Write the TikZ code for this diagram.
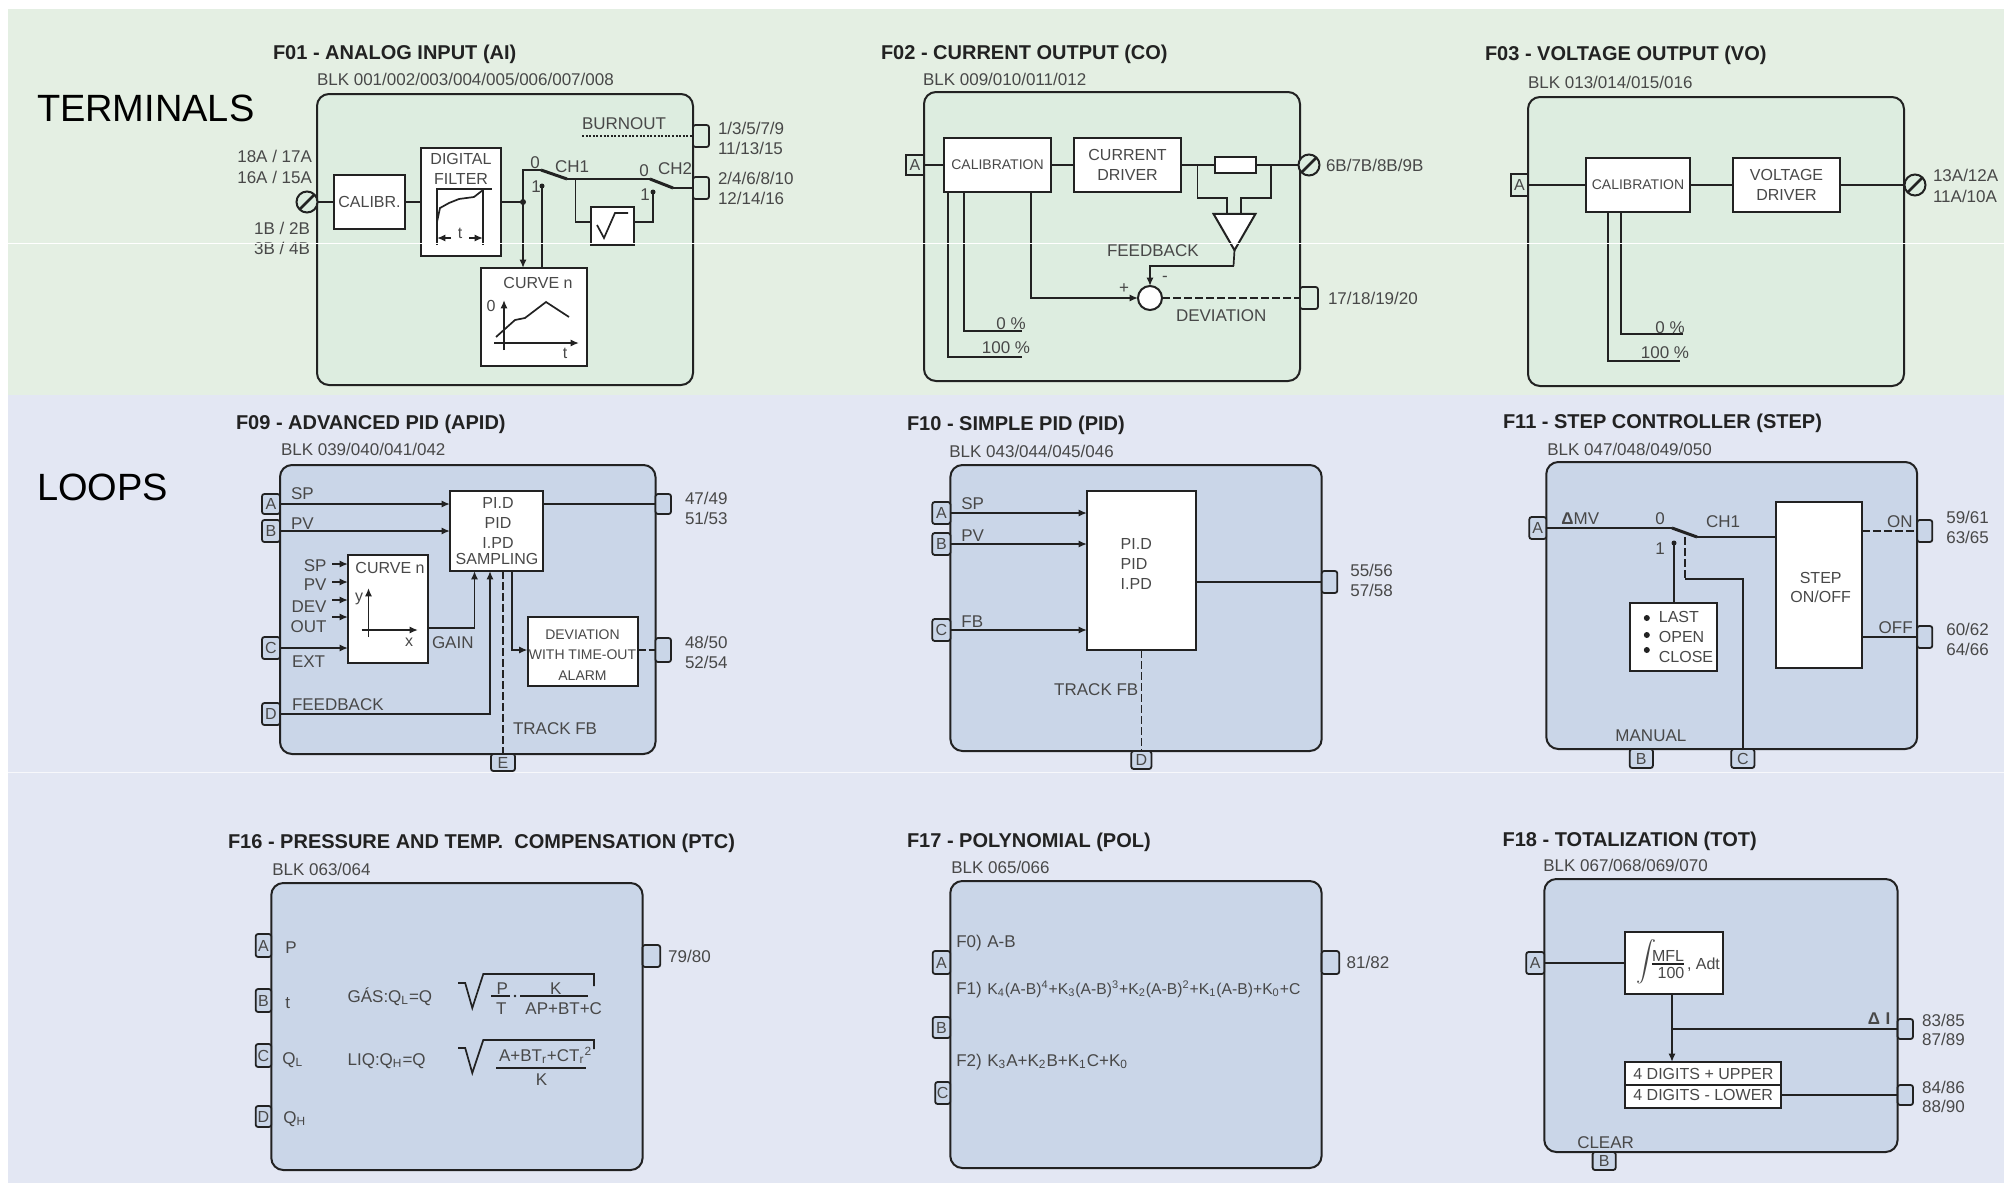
\documentclass[tikz,border=0pt]{standalone}
\usepackage{fontspec}
\setmainfont{Liberation Sans}
\usetikzlibrary{arrows.meta,shapes.geometric}
\definecolor{gband}{HTML}{E4EFE3}
\definecolor{gblock}{HTML}{DDEDE0}
\definecolor{bband}{HTML}{E3E7F3}
\definecolor{bblock}{HTML}{CAD6E8}
\definecolor{txt}{HTML}{484848}
\definecolor{ink}{HTML}{222222}
\newcounter{labn}
\newcommand{\fA}{\fontsize{8.5}{10}\selectfont}
\newcommand{\fB}{\fontsize{8}{10}\selectfont}
\newcommand{\fC}{\fontsize{7}{10}\selectfont}
\newcommand{\LabGen}[5]{\stepcounter{labn}\node[lab,anchor=#1,#2] (lab\arabic{labn}) at (#3,#4) {#5};}
\newcommand{\LabW}[4][]{\LabGen{west}{#1}{#2}{#3}{#4}}
\newcommand{\LabC}[4][]{\LabGen{center}{#1}{#2}{#3}{#4}}
\newcommand{\LabE}[4][]{\LabGen{east}{#1}{#2}{#3}{#4}}
\newcommand{\bx}[7][wbox]{\pgfmathsetmacro\cxv{(#3+#5)/2}\pgfmathsetmacro\cyv{(#4+#6)/2}\pgfmathsetmacro\wv{(#5-#3)/2}\pgfmathsetmacro\hv{(#6-#4)/2}\node[#1,minimum width=\wv pt,minimum height=\hv pt] (#2) at (\cxv,\cyv) {#7};}
\tikzset{
 lab/.style={inner sep=0pt,outer sep=0pt,text=txt,font=\fA,text height=6.1pt,text depth=0pt},
 inlab/.style={font=\fB,text height=5.8pt},
 smlab/.style={font=\fC,text height=5pt},
 ttl/.style={inner sep=0pt,outer sep=0pt,anchor=west,text=ink,font=\fontsize{10}{12}\selectfont\bfseries,text height=7.2pt,text depth=0pt},
 big/.style={inner sep=0pt,outer sep=0pt,anchor=west,text=black,font=\fontsize{19}{22}\selectfont,text height=13.6pt,text depth=0pt},
 wbox/.style={draw=ink,line width=1pt,fill=white,inner sep=0pt,outer sep=0pt,text=txt,font=\fB,align=center},
 gblk/.style={draw=ink,line width=1pt,fill=gblock,rounded corners=6pt,inner sep=0pt,outer sep=0pt},
 bblk/.style={draw=ink,line width=1pt,fill=bblock,rounded corners=6pt,inner sep=0pt,outer sep=0pt},
 gprt/.style={draw=ink,line width=.9pt,fill=gblock,rounded corners=1.2pt,inner sep=0pt,outer sep=0pt,text=txt,font=\fB},
 bprt/.style={draw=ink,line width=.9pt,fill=bblock,rounded corners=1.2pt,inner sep=0pt,outer sep=0pt,text=txt,font=\fB},
 term/.style={circle,draw=ink,line width=1pt,fill=gblock,minimum size=10.5pt,inner sep=0pt,outer sep=0pt},
 slash/.style={draw=ink,line width=1.4pt},
 conn/.style={draw=ink,line width=.85pt},
 arr/.style={conn,-{Latex[length=4.2pt,width=3.6pt]}},
 dsh/.style={conn,dash pattern=on 4pt off 1.5pt},
 dots/.style={conn,dash pattern=on 1pt off .8pt},
 armline/.style={draw=ink,line width=1.5pt},
 dotn/.style={circle,fill=ink,inner sep=0pt,outer sep=0pt,minimum size=3pt},
}
\begin{document}
\begin{tikzpicture}[x=.5pt,y=-.5pt]
\useasboundingbox (0,0) rectangle (2004,1183);
\fill[white] (0,0) rectangle (2004,1183);
\fill[gband] (8,9) rectangle (2004,395);
\fill[bband] (8,395) rectangle (2004,1183);
\node[big] (secT) at (37,108) {TERMINALS};
\node[big] (secL) at (37,487) {LOOPS};

% ===== F01
\node[ttl] (tF01) at (273,52) {F01 - ANALOG INPUT (AI)};
\LabW{317}{79}{BLK 001/002/003/004/005/006/007/008}
\bx[gblk]{b1}{317}{94}{693}{385}{}
\bx[gprt]{b1o1}{693}{125}{709}{147}{}
\bx[gprt]{b1o2}{693}{177}{709}{199}{}
\LabW{718}{128}{1/3/5/7/9}\LabW{718}{148}{11/13/15}
\LabW{718}{178}{2/4/6/8/10}\LabW{718}{198}{12/14/16}
\LabE{312}{156}{18A / 17A}\LabE{312}{177}{16A / 15A}
\LabE{310}{228}{1B / 2B}\LabE{310}{248}{3B / 4B}
\node[term] (t1) at (307,202) {};
\draw[slash] (t1.south west) -- (t1.north east);
\bx{cal1}{334}{175}{405}{229}{CALIBR.}
\bx{filt}{421}{148}{501}{256}{}
\LabC[inlab]{461}{159}{DIGITAL}\LabC[inlab]{461}{179}{FILTER}
\coordinate (gfa) at (437,189);\coordinate (gfb) at (483,189);\coordinate (gfc) at (492,189);
\coordinate (gfd) at (437,245);\coordinate (gfe) at (483,245);
\draw[conn] (gfd) -- (gfa) -- (gfc);
\draw[conn] (gfb) -- (gfe);
\draw[conn] (437,222) -- (440,208) -- (449,203) -- (459,199) -- (474,197) -- (483,190);
\coordinate (gfl) at (437,238);\coordinate (gfm) at (451,238);\coordinate (gfn) at (469,238);\coordinate (gfo) at (483,238);
\draw[arr] (gfm) -- (gfl);\draw[arr] (gfn) -- (gfo);
\LabC[inlab]{460}{233}{t}
\bx{curve1}{481}{268}{587}{366}{}
\LabC[inlab]{538}{283}{CURVE n}
\coordinate (cxa) at (504,350);\coordinate (cxb) at (504,300);\coordinate (cxc) at (494,343);\coordinate (cxd) at (579,343);
\draw[arr] (cxa) -- (cxb);\draw[arr] (cxc) -- (cxd);
\LabC[inlab]{491}{306}{0}\LabC[inlab]{565}{353}{t}
\draw[conn] (496,337) -- (515,320) -- (525,318) -- (546,302) -- (569,317);
\bx{sq1}{591}{207}{634}{245}{}
\draw[conn] (597,225) -- (604,238) -- (615,213) -- (628,213);
\coordinate (j1) at (523,202);\coordinate (c1a) at (541,170);\coordinate (c1b) at (542,186);
\coordinate (c1o) at (567,179);\coordinate (j2) at (575.5,179);\coordinate (c2a) at (650,179);
\coordinate (c2b) at (653,192);\coordinate (c2o) at (673,188);\coordinate (s1) at (591,222);\coordinate (s2) at (634,222);
\coordinate (bo) at (582,136);
\draw[conn] (t1.east) -- (cal1.west);
\draw[conn] (cal1.east) -- (filt.west);
\draw[conn] (filt.east) -- (j1);
\draw[conn] (j1) |- (c1a);
\draw[arr] (j1) -- (j1 |- curve1.north);
\draw[conn] (curve1.north -| c1b) -- (c1b);
\node[dotn] (jd1) at (j1) {};\node[dotn,minimum size=2.5pt] (cd1) at (c1b) {};\node[dotn,minimum size=2.5pt] (cd2) at (c2b) {};
\draw[armline] (c1a) -- (c1o);
\draw[conn] (c1o) -- (c2a);
\draw[conn] (j2) |- (s1);
\draw[conn] (s2) -| (c2b);
\draw[armline] (c2a) -- (c2o);
\draw[conn] (c2o) -- (b1o2.west);
\draw[dots] (bo) -- (b1o1.west);
\LabW{582}{123}{BURNOUT}
\LabC{535}{162}{0}\LabW{555}{166}{CH1}\LabC{536}{186}{1}
\LabC{644}{170}{0}\LabW{658}{168}{CH2}\LabC{645}{194}{1}

% ===== F02
\node[ttl] (tF02) at (881,52) {F02 - CURRENT OUTPUT (CO)};
\LabW{923}{79}{BLK 009/010/011/012}
\bx[gblk]{b2}{924}{92}{1300}{381}{}
\bx[gprt,rounded corners=0pt]{b2a}{906}{155}{924}{175}{A}
\bx[gprt]{b2o}{1300}{287}{1318}{309}{}
\LabW{1326}{165}{6B/7B/8B/9B}\LabW{1328}{298}{17/18/19/20}
\node[term] (t2) at (1309,165) {};
\draw[slash] (t2.south west) -- (t2.north east);
\bx{cal2}{944}{138}{1051}{192}{\fC CALIBRATION}
\bx{drv2}{1074}{138}{1181}{192}{CURRENT\\DRIVER}
\bx{res2}{1215}{157}{1256}{173}{}
\node[regular polygon,regular polygon sides=3,shape border rotate=180,draw=ink,line width=1pt,fill=white,minimum size=24.2pt,inner sep=0pt,outer sep=0pt] (amp2) at (1234.5,226) {};
\node[circle,draw=ink,line width=1pt,fill=white,minimum size=12pt,inner sep=0pt,outer sep=0pt] (sum2) at (1150,298) {};
\coordinate (ta) at (1197.5,165);\coordinate (tb) at (1271,165);\coordinate (tm) at (0,198);
\coordinate (ta2) at (1227,213);\coordinate (tb2) at (1241,213);\coordinate (fb2) at (1233.5,266);
\coordinate (k2) at (1031,298);\coordinate (x0a) at (964,192);\coordinate (x1a) at (948,192);
\coordinate (p0a) at (1022,331);\coordinate (p1a) at (1022,357);
\draw[conn] (b2a.east) -- (cal2.west);
\draw[conn] (cal2.east) -- (drv2.west);
\draw[conn] (drv2.east) -- (res2.west);
\draw[conn] (res2.east) -- (t2.west);
\draw[conn] (ta) |- (tm -| ta2) -- (ta2);
\draw[conn] (tb) |- (tm -| tb2) -- (tb2);
\draw[conn] (amp2.corner 1) -- (fb2);
\draw[arr] (fb2) -| (sum2.north);
\draw[arr] (cal2.south -| k2) |- (sum2.west);
\draw[dsh] (sum2.east) -- (b2o.west);
\draw[conn] (x0a) |- (p0a);
\draw[conn] (x1a) |- (p1a);
\LabC{1011}{323}{0 \%}\LabC{1006}{347}{100 \%}
\LabW{1107}{250}{FEEDBACK}\LabW{1176}{315}{DEVIATION}
\LabC{1165}{275}{-}\LabC{1124}{287}{+}

% ===== F03
\node[ttl] (tF03) at (1485,53) {F03 - VOLTAGE OUTPUT (VO)};
\LabW{1528}{82}{BLK 013/014/015/016}
\bx[gblk]{b3}{1528}{97}{1904}{386}{}
\bx[gprt,rounded corners=0pt]{b3a}{1511}{174}{1528}{196}{A}
\node[term] (t3) at (1915,185) {};
\draw[slash] (t3.south west) -- (t3.north east);
\LabW{1933}{175}{13A/12A}\LabW{1933}{196}{11A/10A}
\bx{cal3}{1586}{158}{1690}{212}{\fC CALIBRATION}
\bx{drv3}{1733}{158}{1840}{212}{VOLTAGE\\DRIVER}
\coordinate (x0b) at (1621,212);\coordinate (x1b) at (1608,212);\coordinate (p0b) at (1683,334);\coordinate (p1b) at (1680,361);
\draw[conn] (b3a.east) -- (cal3.west);
\draw[conn] (cal3.east) -- (drv3.west);
\draw[conn] (drv3.east) -- (t3.west);
\draw[conn] (x0b) |- (p0b);
\draw[conn] (x1b) |- (p1b);
\LabC{1670}{327}{0 \%}\LabC{1665}{352}{100 \%}

% ===== F09
\node[ttl] (tF09) at (236,422) {F09 - ADVANCED PID (APID)};
\LabW{281}{449}{BLK 039/040/041/042}
\bx[bblk]{b9}{280}{465}{655.5}{754}{}
\bx[bprt]{p9a}{262}{494}{280}{514}{A}
\bx[bprt]{p9b}{262}{520}{280}{542}{B}
\bx[bprt]{p9c}{262}{637}{280}{659}{C}
\bx[bprt]{p9d}{262}{703}{280}{725}{D}
\bx[bprt]{p9e}{491}{754}{515}{771}{E}
\bx[bprt]{p9o1}{655.5}{494}{671}{514}{}
\bx[bprt]{p9o2}{655.5}{638}{671}{662}{}
\LabW{685}{498}{47/49}\LabW{685}{518}{51/53}\LabW{685}{642}{48/50}\LabW{685}{662}{52/54}
\bx{pid9}{450}{491}{543}{571}{}
\LabC[inlab]{498}{503}{PI.D}\LabC[inlab]{498}{523}{PID}\LabC[inlab]{498}{543}{I.PD}\LabC[inlab]{497}{559}{SAMPLING}
\bx{cv9}{348}{555}{428}{663}{}
\LabC[inlab]{390}{568}{CURVE n}
\coordinate (yaa) at (368.5,637);\coordinate (yab) at (368.5,588);\coordinate (xaa) at (361.5,630);\coordinate (xab) at (418,630);
\draw[arr] (yaa) -- (yab);\draw[arr] (xaa) -- (xab);
\LabC[inlab]{359}{596}{y}\LabC[inlab]{409}{641}{x}
\bx{al9}{527.5}{617}{637.5}{686}{}
\LabC[smlab]{582.5}{634}{DEVIATION}\LabC[smlab]{582.5}{654}{WITH TIME-OUT}\LabC[smlab]{582.5}{675}{ALARM}
\coordinate (i1) at (332,564);\coordinate (i2) at (332,582);\coordinate (i3) at (332,600);\coordinate (i4) at (332,617);
\foreach \q in {i1,i2,i3,i4} {\draw[arr] (\q) -- (cv9.west |- \q);}
\coordinate (g9a) at (428,628);\coordinate (g9b) at (474.5,571);\coordinate (f9b) at (490,571);
\coordinate (t9) at (503,571);\coordinate (d9) at (512,571);\coordinate (d9b) at (512,650);
\draw[arr] (p9a.east) -- (pid9.west |- p9a);
\draw[arr] (p9b.east) -- (pid9.west |- p9b);
\draw[arr] (p9c.east) -- (cv9.west |- p9c);
\draw[arr] (g9a) -| (g9b);
\draw[arr] (p9d.east) -| (f9b);
\draw[dsh] (t9) -- (t9 |- p9e.north);
\draw[arr] (d9) -- (d9b) -- (al9.west |- d9b);
\draw[conn] (pid9.east |- p9o1) -- (p9o1.west);
\draw[dsh] (al9.east |- p9o2) -- (p9o2.west);
\LabW{291}{493}{SP}\LabW{291}{523}{PV}\LabW{292}{661}{EXT}\LabW{292}{704}{FEEDBACK}
\LabE{326.5}{565}{SP}\LabE{326.5}{584}{PV}\LabE{326.5}{606}{DEV}\LabE{326.5}{626}{OUT}
\LabW{432}{642}{GAIN}\LabW{513}{728}{TRACK FB}

% ===== F10
\node[ttl] (tF10) at (907,423) {F10 - SIMPLE PID (PID)};
\LabW{949.3}{451}{BLK 043/044/045/046}
\bx[bblk]{b10}{950.4}{465}{1321.7}{751}{}
\bx[bprt]{p10a}{932.3}{502}{950.4}{524}{A}
\bx[bprt]{p10b}{932.3}{533}{950.4}{555}{B}
\bx[bprt]{p10c}{932.3}{619}{950.4}{641}{C}
\bx[bprt]{p10d}{1131.3}{751}{1151.4}{769}{D}
\bx[bprt]{p10o}{1321.7}{571}{1337.3}{593}{}
\LabW{1350.3}{570}{55/56}\LabW{1350.3}{590}{57/58}
\bx{pid10}{1087}{491}{1195.6}{650}{}
\LabW[inlab]{1120.7}{544}{PI.D}\LabW[inlab]{1120.7}{564}{PID}\LabW[inlab]{1120.7}{584}{I.PD}
\draw[arr] (p10a.east) -- (pid10.west |- p10a);
\draw[arr] (p10b.east) -- (pid10.west |- p10b);
\draw[arr] (p10c.east) -- (pid10.west |- p10c);
\draw[conn] (pid10.east |- p10o) -- (p10o.west);
\draw[dsh] (pid10.south -| p10d) -- (p10d.north);
\LabW{961.4}{503}{SP}\LabW{961.4}{535}{PV}\LabW{961.4}{621}{FB}
\LabE{1138.3}{689}{TRACK FB}

% ===== F11
\node[ttl] (tF11) at (1503,421) {F11 - STEP CONTROLLER (STEP)};
\LabW{1547.3}{449}{BLK 047/048/049/050}
\bx[bblk]{b11}{1546.3}{462}{1917.2}{749}{}
\bx[bprt]{p11a}{1529.3}{517}{1546.3}{539}{A}
\bx[bprt]{p11b}{1629.7}{749}{1652.9}{768}{B}
\bx[bprt]{p11c}{1731.3}{749}{1754.4}{768}{C}
\bx[bprt]{p11o1}{1917.2}{520}{1932.3}{542}{}
\bx[bprt]{p11o2}{1917.2}{626}{1932.3}{648}{}
\LabW{1946.3}{517}{59/61}\LabW{1946.3}{537}{63/65}\LabW{1946.3}{629}{60/62}\LabW{1946.3}{649}{64/66}
\bx{st11}{1775.5}{502}{1861.9}{668}{}
\LabC[inlab]{1820.7}{578}{STEP}\LabC[inlab]{1820.7}{597}{ON/OFF}
\bx{ls11}{1629.7}{603}{1716.7}{671}{}
\node[dotn] (d11a) at (1646.8,618) {};\node[dotn] (d11b) at (1646.8,635) {};\node[dotn] (d11c) at (1646.8,650) {};
\LabW[inlab]{1658.9}{617}{LAST}\LabW[inlab]{1658.9}{637}{OPEN}\LabW[inlab]{1658.9}{657}{CLOSE}
\coordinate (s11a) at (1672,528);\coordinate (s11o) at (1697,537);\coordinate (s11b) at (1674,543);
\coordinate (s11d) at (1685,537);\coordinate (s11e) at (1685,579);
\draw[conn] (p11a.east) -- (s11a);
\draw[armline] (s11a) -- (s11o);
\draw[conn] (s11o) -- (st11.west |- s11o);
\draw[conn] (ls11.north -| s11b) -- (s11b);
\node[dotn,minimum size=2.5pt] (cd11) at (s11b) {};
\draw[dsh] (s11d) -- (s11e);
\draw[conn] (s11e) -| (p11c.north);
\draw[dsh] (st11.east |- p11o1) -- (p11o1.west);
\draw[conn] (st11.east |- p11o2) -- (p11o2.west);
\LabW{1561.4}{518}{{\bfseries Δ}MV}\LabC{1660}{518}{0}\LabW{1706}{521}{CH1}\LabC{1660}{548}{1}
\LabE{1912.7}{521}{ON}\LabE{1912.7}{627}{OFF}\LabC{1650.9}{735}{MANUAL}

% ===== F16
\node[ttl] (tF16) at (228,841) {F16 - PRESSURE AND TEMP.\ \ COMPENSATION (PTC)};
\LabW{272.3}{869}{BLK 063/064}
\bx[bblk]{b16}{271.3}{883}{642.6}{1170}{}
\bx[bprt]{p16a}{255.7}{934}{271.3}{957}{A}
\bx[bprt]{p16b}{255.7}{989}{271.3}{1012}{B}
\bx[bprt]{p16c}{255.7}{1044}{271.3}{1067}{C}
\bx[bprt]{p16d}{255.7}{1106}{271.3}{1127}{D}
\bx[bprt]{p16o}{642.6}{945}{660.2}{967}{}
\LabW{668.2}{956}{79/80}
\LabW{285.3}{947}{P}\LabW{285.3}{1002}{t}\LabW{282.3}{1058}{Q\textsubscript{L}}\LabW{283.3}{1117}{Q\textsubscript{H}}
\LabW{347.6}{996}{GÁS:Q\textsubscript{L}=Q}\LabW{347.6}{1059}{LIQ:Q\textsubscript{H}=Q}
\draw[conn] (458.2,983) -- (465.2,983) -- (472.3,1008) -- (483.3,974) -- (593.9,974) -- (593.9,986);
\draw[conn] (491.4,996) -- (510.4,996);\draw[conn] (520,996) -- (588.3,996);
\fill[ink] (515,996) circle (.7pt);
\LabC{502.4}{988}{P}\LabC{501.4}{1008}{T}\LabC{555.7}{988}{K}\LabC{563.7}{1008}{AP+BT+C}
\draw[conn] (458.2,1048) -- (465.2,1048) -- (472.3,1073) -- (483.3,1040) -- (593.9,1040) -- (593.9,1049);
\draw[conn] (496,1068) -- (585.8,1068);
\LabC{545.6}{1055}{A+BT\textsubscript{r}+CT\textsubscript{r}\textsuperscript{2}}\LabC{541.6}{1079}{K}

% ===== F17
\node[ttl] (tF17) at (907,840) {F17 - POLYNOMIAL (POL)};
\LabW{951.3}{867}{BLK 065/066}
\bx[bblk]{b17}{950.3}{881}{1321.6}{1168}{}
\bx[bprt]{p17a}{932.7}{951}{950.3}{974}{A}
\bx[bprt]{p17b}{932.7}{1017}{950.3}{1038}{B}
\bx[bprt]{p17c}{935.2}{1082}{950.3}{1104}{C}
\bx[bprt]{p17o}{1321.6}{951}{1339.2}{974}{}
\LabW{1346.7}{962}{81/82}
\LabW{956.3}{941}{F0)}\LabW{987.4}{941}{A-B}
\LabW{956.3}{988}{F1)}\LabW{987.4}{988}{\fontsize{7.85}{10}\selectfont K\textsubscript{4}(A-B)\textsuperscript{4}+K\textsubscript{3}(A-B)\textsuperscript{3}+K\textsubscript{2}(A-B)\textsuperscript{2}+K\textsubscript{1}(A-B)+K\textsubscript{0}+C}
\LabW{956.3}{1060}{F2)}\LabW{987.4}{1060}{K\textsubscript{3}A+K\textsubscript{2}B+K\textsubscript{1}C+K\textsubscript{0}}

% ===== F18
\node[ttl] (tF18) at (1502.6,839) {F18 - TOTALIZATION (TOT)};
\LabW{1543.3}{865}{BLK 067/068/069/070}
\bx[bblk]{b18}{1544.3}{879}{1897.6}{1152}{}
\bx[bprt]{p18a}{1526.2}{952}{1544.3}{974}{A}
\bx[bprt]{p18b}{1592.6}{1152}{1615.7}{1170}{B}
\bx[bprt]{p18o1}{1897.6}{1019}{1913}{1039}{}
\bx[bprt]{p18o2}{1897.6}{1085}{1913}{1105}{}
\LabW{1922.2}{1020}{83/85}\LabW{1922.2}{1039}{87/89}\LabW{1922.2}{1087}{84/86}\LabW{1922.2}{1106}{88/90}
\bx{int18}{1625.3}{932}{1723.2}{994}{}
\LabC[text height=,text depth=]{1646.8}{962}{$\displaystyle\int$}
\draw[conn] (1651.9,964) -- (1684,964);
\LabC[inlab]{1668}{956}{MFL}\LabC[inlab]{1671}{973}{100}\LabW[inlab]{1687}{964}{, Adt}
\bx{dg18a}{1625.3}{1062}{1780.5}{1085}{}
\bx{dg18b}{1625.3}{1085}{1780.5}{1108}{}
\LabW[inlab]{1633.4}{1074}{4 DIGITS + UPPER}\LabW[inlab]{1633.4}{1095}{4 DIGITS - LOWER}
\coordinate (j18) at (1672,1029);
\draw[conn] (p18a.east) -- (int18.west |- p18a);
\draw[arr] (int18.south -| j18) -- (dg18a.north -| j18);
\draw[conn] (j18) -- (p18o1.west);
\draw[conn] (dg18b.east |- p18o2) -- (p18o2.west);
\LabC{1874}{1018}{{\bfseries Δ}}\LabC{1888}{1018}{{\bfseries I}}
\LabC{1605.6}{1142}{CLEAR}

% scan lines
\draw[white,line width=.4pt] (8,243.5) -- (2004,243.5);
\draw[white!70!bband,line width=.4pt] (8,772) -- (2004,772);
\end{tikzpicture}
\end{document}
